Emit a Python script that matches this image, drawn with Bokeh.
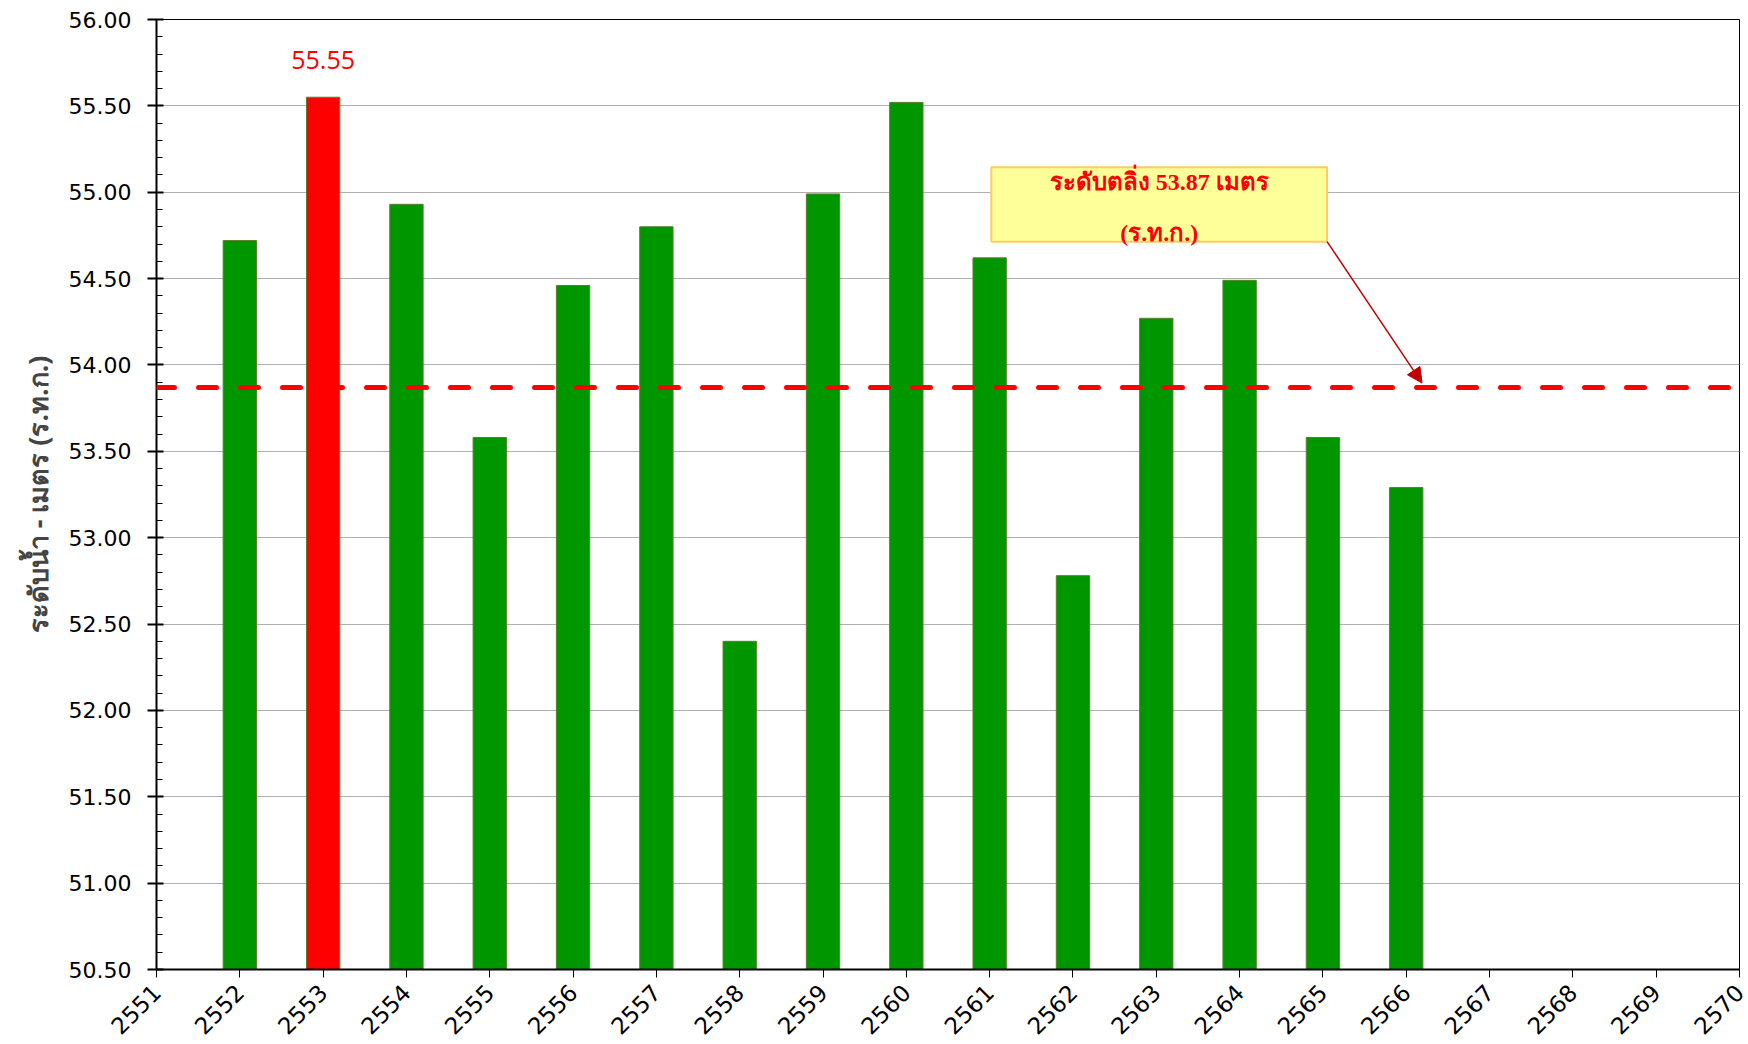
import math
from bokeh.plotting import figure
from bokeh.models import (ColumnDataSource, Range1d, FixedTicker, SingleIntervalTicker,
                          NumeralTickFormatter, Span, Arrow, NormalHead)
from bokeh.core.properties import value
from bokeh.embed import file_html
from bokeh.resources import INLINE

# ---- data ----
years = [2552, 2553, 2554, 2555, 2556, 2557, 2558, 2559, 2560, 2561, 2562, 2563, 2564, 2565, 2566]
levels = [54.72, 55.55, 54.93, 53.58, 54.46, 54.80, 52.40, 54.99, 55.52, 54.62, 52.78, 54.27, 54.49, 53.58, 53.29]
x_ticks = list(range(2551, 2571))
bank_level = 53.87
y_title = "ระดับน้ำ - เมตร (ร.ท.ก.)"
note_lines = ["ระดับตลิ่ง 53.87 เมตร", "(ร.ท.ก.)"]

max_level = max(levels)
colors = ["#FF0000" if v == max_level else "#009600" for v in levels]
src = ColumnDataSource(dict(x=years, top=levels, color=colors))

p = figure(output_backend="svg", toolbar_location=None,
           width=1748, height=1044,
           min_border_left=156, min_border_top=19, min_border_right=9, min_border_bottom=73,
           x_range=Range1d(x_ticks[0], x_ticks[-1]), y_range=Range1d(50.5, 56.0))
p.background_fill_color = "white"
p.border_fill_color = "white"
p.outline_line_color = "black"
p.outline_line_width = 1

p.vbar(x="x", top="top", bottom=50.5, width=0.4, source=src,
       fill_color="color", line_color="#5a7d2a", line_width=1)

# axes
p.xaxis.ticker = FixedTicker(ticks=x_ticks)
p.xaxis.major_label_orientation = math.pi / 4
p.xaxis.major_tick_out = 8
p.xaxis.major_tick_in = 0
p.xaxis.minor_tick_line_color = None
p.xaxis.axis_line_width = 2
p.xaxis.major_tick_line_width = 1
p.xaxis.major_label_text_font = "DejaVu Sans"
p.xaxis.major_label_text_font_size = "23px"
p.xaxis.major_label_text_color = "black"
p.xaxis.major_label_standoff = 11

p.yaxis.ticker = SingleIntervalTicker(interval=0.5, num_minor_ticks=5)
p.yaxis.formatter = NumeralTickFormatter(format="0.00")
p.yaxis.major_tick_out = 9
p.yaxis.major_tick_in = 7
p.yaxis.minor_tick_out = 0
p.yaxis.minor_tick_in = 6
p.yaxis.axis_line_width = 2
p.yaxis.major_tick_line_width = 2
p.yaxis.minor_tick_line_width = 1
p.yaxis.major_label_text_font = "DejaVu Sans"
p.yaxis.major_label_text_font_size = "22px"
p.yaxis.major_label_text_color = "black"
p.yaxis.major_label_standoff = 16
p.yaxis.axis_label = y_title
p.yaxis.axis_label_text_font = "Noto Sans"
p.yaxis.axis_label_text_font_style = "bold"
p.yaxis.axis_label_text_font_size = "27px"
p.yaxis.axis_label_standoff = 10

p.xgrid.grid_line_color = None
p.ygrid.grid_line_color = "#b0b0b0"
p.ygrid.grid_line_width = 1

# max label
p.text(x=[years[levels.index(max_level)]], y=[max_level], text=[f"{max_level:.2f}"],
       text_color="#FF0000", text_font=value("Open Sans"), text_font_size="25px",
       text_align="center", text_baseline="middle", y_offset=-37)

# bank level dashed line
p.add_layout(Span(location=bank_level, dimension="width", line_color="#FF0000",
                  line_width=5, line_dash="18 24", line_cap="round"))

# note box
box_l, box_r, box_t, box_b = 2561.02, 2565.05, 55.144, 54.714
p.quad(left=[box_l], right=[box_r], top=[box_t], bottom=[box_b],
       fill_color="#FFFF99", line_color="#FFC966", line_width=2)
p.text(x=[(box_l + box_r) / 2] * 2, y=[55.061, 54.764], text=note_lines,
       text_color="#FF0000", text_font=value("Liberation Serif"), text_font_style="bold",
       text_font_size="24px", text_align="center", text_baseline="middle")

p.add_layout(Arrow(x_start=box_r, y_start=box_b, x_end=2566.19, y_end=bank_level + 0.025,
                   line_color="#C00000", line_width=1.5,
                   end=NormalHead(size=15, fill_color="#C00000", line_color="#C00000")))

open("out.html", "w").write(file_html(p, INLINE))
